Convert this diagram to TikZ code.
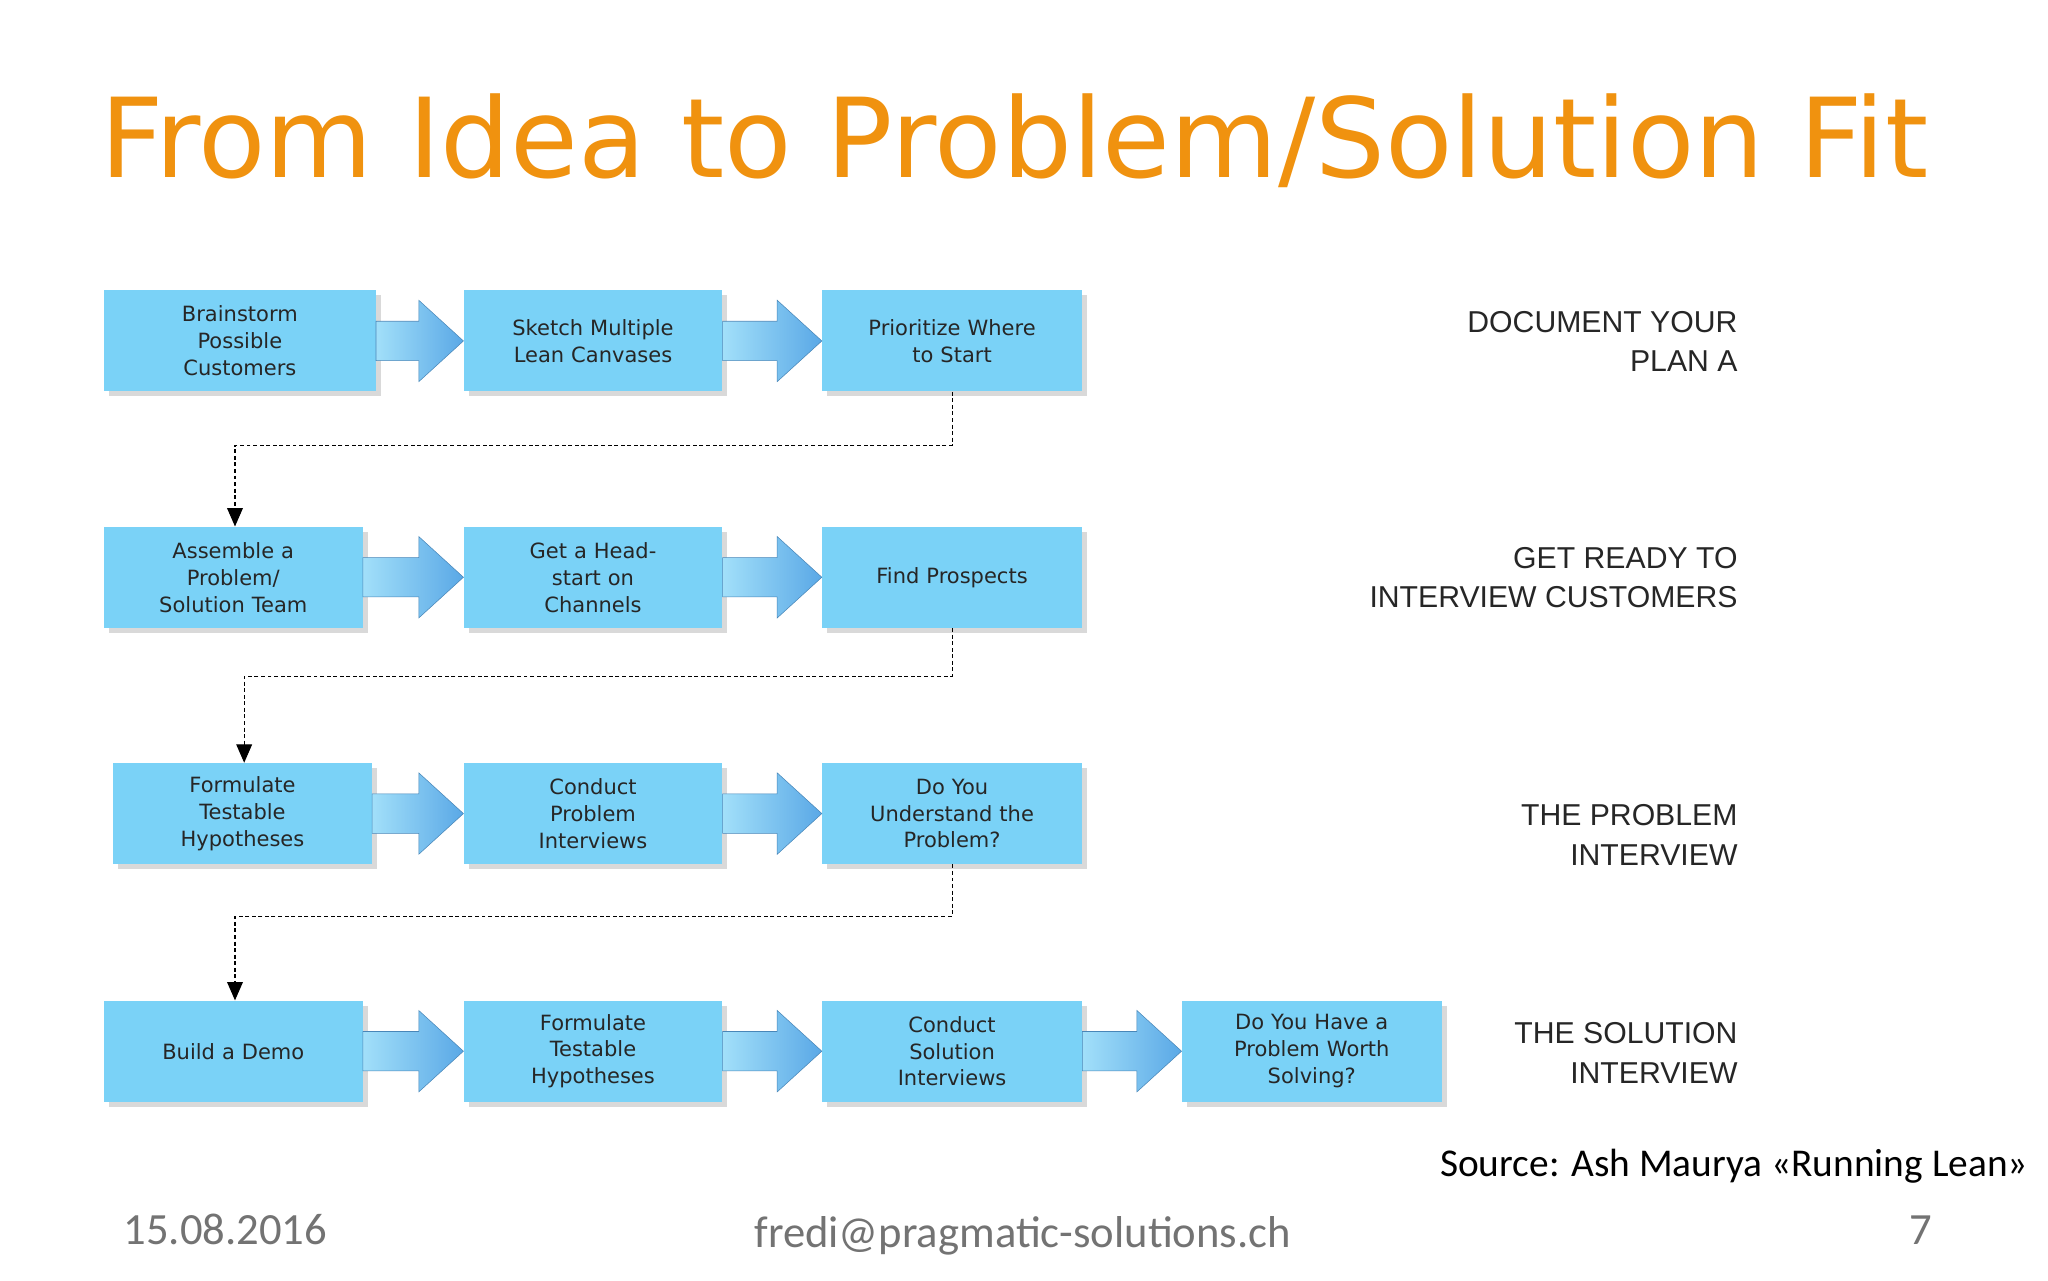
\documentclass[tikz,border=0pt]{standalone}
\usepackage{fontspec}
\setmainfont{DejaVu Sans}
\newfontfamily\labelfont{Liberation Sans}
\newfontfamily\footfont{Carlito}
\usetikzlibrary{calc,arrows.meta}
\definecolor{boxblue}{HTML}{7AD2F7}
\definecolor{arrowblue}{HTML}{5AA8E6}
\definecolor{titleorange}{HTML}{F0920F}
\newcommand{\blockarrow}[2]{%
  \path[draw=arrowblue!80!black, thin, left color=boxblue!70, right color=arrowblue]
    ($(#1.east)+(0,-15)$) -- ($(#2.west)+(-34,-15)$) -- ($(#2.west)+(-34,-31)$)
    -- (#2.west) -- ($(#2.west)+(-34,31)$) -- ($(#2.west)+(-34,15)$)
    -- ($(#1.east)+(0,15)$) -- cycle;}
\begin{document}
\begin{tikzpicture}[x=1pt,y=-1pt,
  box/.style={rectangle, fill=boxblue, minimum height=77pt, align=center,
    font=\fontsize{16}{20.5}\selectfont, text=black!85, inner sep=0pt, anchor=north west},
  flowline/.style={densely dashed, thick, -{Triangle[length=14pt,width=12pt]}},
  side/.style={anchor=east, align=right, font=\labelfont\fontsize{23}{30}\selectfont, text=black!85}]
\useasboundingbox (0,0) rectangle (1560,975);
\fill[white] (0,0) rectangle (1560,975);
\node[anchor=base west, text=titleorange, font=\fontsize{84}{90}\selectfont, inner sep=0pt] (title) at (76,135) {From Idea to Problem/Solution Fit};

\foreach \n/\x/\y/\w/\t in {
  a1/79/221/207/{Brainstorm\\Possible\\Customers},
  a2/353/221/197/{Sketch Multiple\\Lean Canvases},
  a3/626/221/198/{Prioritize Where\\to Start},
  b1/79/401/197/{Assemble a\\Problem/\\Solution Team},
  b2/353/401/197/{Get a Head-\\start on\\Channels},
  b3/626/401/198/{Find Prospects},
  c1/86/581/197/{Formulate\\Testable\\Hypotheses},
  c2/353/581/197/{Conduct\\Problem\\Interviews},
  c3/626/581/198/{Do You\\Understand the\\Problem?},
  d1/79/762/197/{Build a Demo},
  d2/353/762/197/{Formulate\\Testable\\Hypotheses},
  d3/626/762/198/{Conduct\\Solution\\Interviews},
  d4/900/762/198/{Do You Have a\\Problem Worth\\Solving?}}
{\fill[black!15] (\x+4,\y+4) rectangle ++(\w,77);
 \node[box, minimum width=\w pt, text width=\w pt] (\n) at (\x,\y) {\t};}

\blockarrow{a1}{a2}\blockarrow{a2}{a3}
\blockarrow{b1}{b2}\blockarrow{b2}{b3}
\blockarrow{c1}{c2}\blockarrow{c2}{c3}
\blockarrow{d1}{d2}\blockarrow{d2}{d3}\blockarrow{d3}{d4}

\coordinate (k1) at (a3.south |- 0,339);
\coordinate (k2) at (179,339);
\draw[flowline] (a3.south) -- (k1) -- (k2) -- (k2 |- b1.north);
\coordinate (m1) at (b3.south |- 0,515);
\coordinate (m2) at (186,515);
\draw[flowline] (b3.south) -- (m1) -- (m2) -- (m2 |- c1.north);
\coordinate (n1) at (c3.south |- 0,698);
\coordinate (n2) at (179,698);
\draw[flowline] (c3.south) -- (n1) -- (n2) -- (n2 |- d1.north);

\node[side] (s1) at (1327,260) {DOCUMENT YOUR\\PLAN A};
\node[side] (s2) at (1327,440) {GET READY TO\\INTERVIEW CUSTOMERS};
\node[side] (s3) at (1327,636) {THE PROBLEM\\INTERVIEW};
\node[side] (s4) at (1327,802) {THE SOLUTION\\INTERVIEW};

\node[anchor=base east, font=\footfont\fontsize{30}{34}\selectfont, inner sep=0pt] (src) at (1545,896) {Source: Ash Maurya «Running Lean»};
\node[anchor=base west, font=\footfont\fontsize{34}{38}\selectfont, text=black!55, inner sep=0pt] (date) at (94,948) {15.08.2016};
\node[anchor=base, font=\footfont\fontsize{34}{38}\selectfont, text=black!55, inner sep=0pt] (mail) at (779,950) {fredi@pragmatic-solutions.ch};
\node[anchor=base, font=\footfont\fontsize{34}{38}\selectfont, text=black!55, inner sep=0pt] (pg) at (1463,948) {7};
\end{tikzpicture}
\end{document}
